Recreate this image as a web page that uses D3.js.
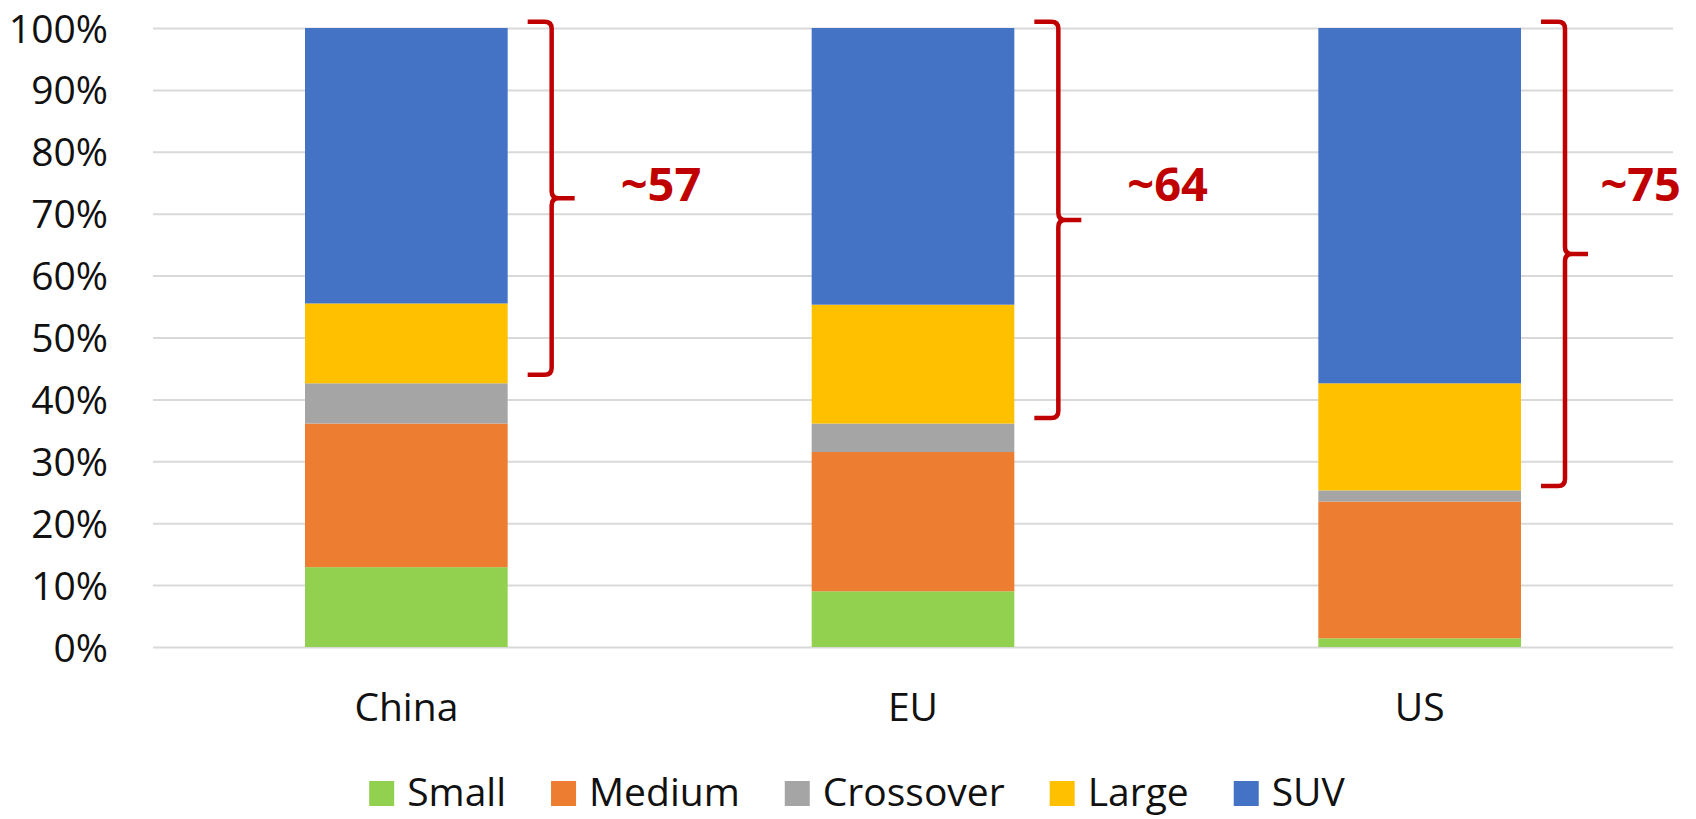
<!DOCTYPE html>
<html>
<head>
<meta charset="utf-8">
<script src="https://cdn.jsdelivr.net/npm/d3@7"></script>
<style>
  html, body { margin: 0; padding: 0; background: #ffffff; }
  svg { display: block; }
  text { font-family: "Open Sans", "Noto Sans", sans-serif; }
</style>
</head>
<body>
<svg id="chart" width="1696" height="819"></svg>
<script>
// Vehicle segment shares by market (percent of total)
const categories = ["China", "EU", "US"];
const seriesNames = ["Small", "Medium", "Crossover", "Large", "SUV"];
const small     = [12.9,  9.0,  1.4];
const medium    = [23.2, 22.5, 22.1];
const crossover = [ 6.5,  4.6,  1.8];
const large     = [12.9, 19.2, 17.3];
const suv       = [44.5, 44.7, 57.4];
const seriesColors = ["#92D050", "#ED7D31", "#A5A5A5", "#FFC000", "#4472C4"];
const yTicks = [0, 10, 20, 30, 40, 50, 60, 70, 80, 90, 100];

// Brace annotations and the shares they mark
const braceSpans  = [57, 64, 75];
const braceLabels = ["~57", "~64", "~75"];
const braceTop = 101;

const W = 1696, H = 819;
const margin = { left: 153, right: 23, top: 28, bottom: 172 };
const svg = d3.select("#chart");

const x = d3.scaleBand()
  .domain(categories)
  .range([margin.left, W - margin.right])
  .paddingInner(0.6)
  .paddingOuter(0.3);

const y = d3.scaleLinear()
  .domain([0, 100])
  .range([H - margin.bottom, margin.top]);

// Table for the stack layout
const table = categories.map((c, i) => ({
  category: c,
  Small: small[i], Medium: medium[i], Crossover: crossover[i], Large: large[i], SUV: suv[i]
}));
const stacked = d3.stack().keys(seriesNames)(table);
const color = d3.scaleOrdinal().domain(seriesNames).range(seriesColors);

// Gridlines + y labels
const yAxis = svg.append("g")
  .attr("transform", `translate(${margin.left},0)`)
  .call(d3.axisLeft(y)
    .tickValues(yTicks)
    .tickSize(-(W - margin.right - margin.left))
    .tickPadding(45)
    .tickFormat(d => d + "%"));
yAxis.select(".domain").remove();
yAxis.selectAll(".tick line").attr("stroke", "#d9d9d9").attr("stroke-width", 2);
yAxis.selectAll(".tick text")
  .attr("fill", "#111")
  .attr("font-size", 39)
  .attr("dy", "0.36em");

// Stacked bars
svg.append("g")
  .selectAll("g")
  .data(stacked)
  .join("g")
  .attr("fill", d => color(d.key))
  .selectAll("rect")
  .data(d => d)
  .join("rect")
  .attr("x", d => x(d.data.category))
  .attr("width", x.bandwidth())
  .attr("y", d => y(d[1]))
  .attr("height", d => y(d[0]) - y(d[1]));

// Category axis
const xAxis = svg.append("g")
  .attr("transform", `translate(0,${y(0)})`)
  .call(d3.axisBottom(x).tickSize(0).tickPadding(46));
xAxis.select(".domain").remove();
xAxis.selectAll(".tick text")
  .attr("fill", "#111")
  .attr("font-size", 39);

// Curly braces with labels
const braceColor = "#C00000";
const braces = svg.append("g");
categories.forEach((c, i) => {
  const xv = x(c) + x.bandwidth() + 44;
  const x0 = xv - 24;
  const xt = xv + 23;
  const yT = y(braceTop);
  const yB = y(braceTop - braceSpans[i]);
  const yM = (yT + yB) / 2;
  const r = 7;
  const p = d3.path();
  p.moveTo(x0, yT);
  p.lineTo(xv - r, yT);
  p.quadraticCurveTo(xv, yT, xv, yT + r);
  p.lineTo(xv, yM - r);
  p.quadraticCurveTo(xv, yM, xv + r, yM);
  p.lineTo(xt, yM);
  p.moveTo(xv + r, yM);
  p.quadraticCurveTo(xv, yM, xv, yM + r);
  p.lineTo(xv, yB - r);
  p.quadraticCurveTo(xv, yB, xv - r, yB);
  p.lineTo(x0, yB);
  braces.append("path")
    .attr("d", p.toString())
    .attr("fill", "none")
    .attr("stroke", braceColor)
    .attr("stroke-width", 4.5)
    .attr("stroke-linejoin", "round");

  const label = braces.append("text")
    .attr("font-family", "'Liberation Sans', Arial, sans-serif")
    .attr("font-weight", "bold")
    .attr("font-size", 47)
    .attr("fill", braceColor)
    .attr("y", y(72))
    .text(braceLabels[i]);
  const tw = label.node().getComputedTextLength();
  label.attr("x", Math.min(xt + 46, W - 15 - tw));
});

// Legend
const legend = svg.append("g");
const sw = 25, gapText = 13, gapItem = 45;
let lx = 0;
seriesNames.forEach(name => {
  const g = legend.append("g");
  g.append("rect")
    .attr("x", 0).attr("y", -25)
    .attr("width", sw).attr("height", sw)
    .attr("fill", color(name));
  const t = g.append("text")
    .attr("x", sw + gapText)
    .attr("y", 0)
    .attr("font-size", 39)
    .attr("fill", "#111")
    .text(name);
  const w = sw + gapText + t.node().getComputedTextLength();
  g.attr("transform", `translate(${lx},0)`);
  lx += w + gapItem;
});
const legendWidth = lx - gapItem;
legend.attr("transform", `translate(${857 - legendWidth / 2},806)`);
</script>
</body>
</html>
